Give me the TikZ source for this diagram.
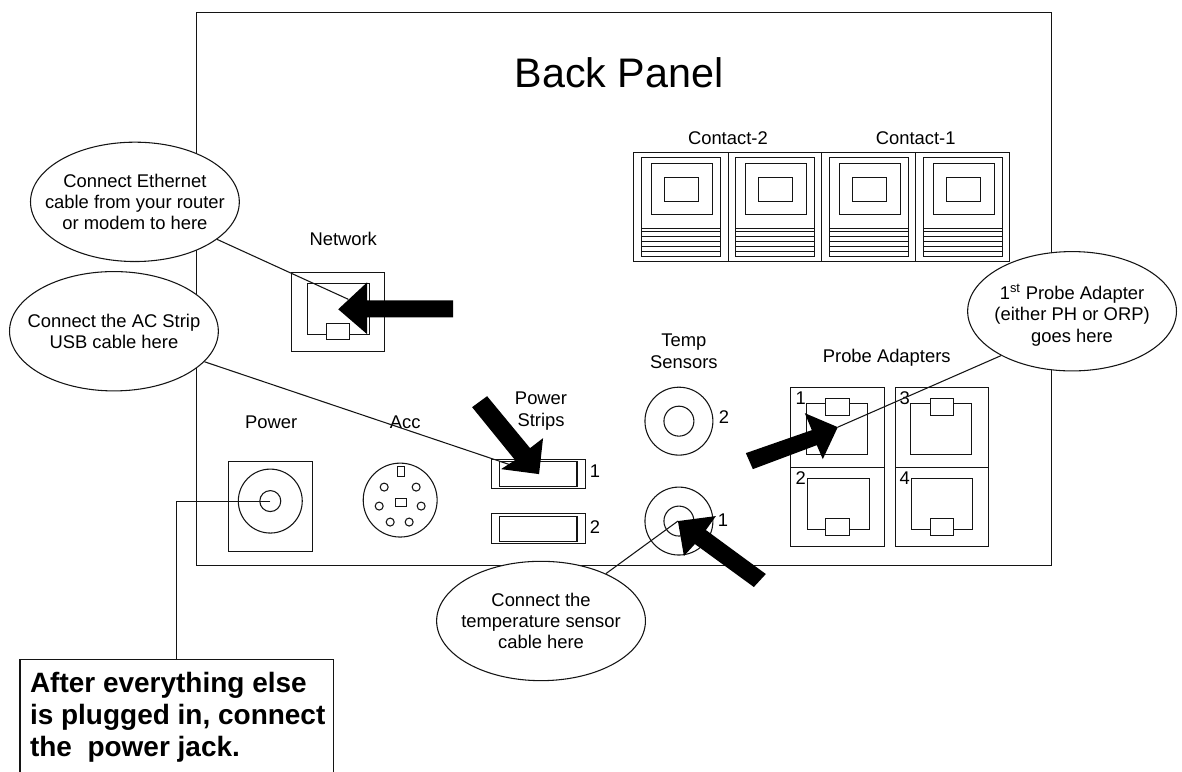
\documentclass[tikz,border=0pt]{standalone}
\usepackage{fontspec}
\setmainfont{Liberation Sans}
\usetikzlibrary{shapes.geometric}
\definecolor{ink}{gray}{0.08}
\tikzset{
  x=0.75pt,y=-0.75pt,
  every path/.style={line width=0.8pt,draw=ink},
  lbl/.style={draw=none,inner sep=0pt,align=center,text=black,font=\fontsize{13.8}{16}\selectfont},
  note/.style={shape=ellipse,draw=ink,fill=white,line width=0.8pt,inner sep=0pt,minimum width=156.75pt,minimum height=89.6pt},
  blockarrow/.style={fill=black,draw=none},
  modulepic/.pic={
    \draw (8,5) rectangle (87,104);
    \draw (18,11) rectangle (79,62);
    \draw (31,25) rectangle (65,49);
    \foreach \yy in {76,79,84,89,94,99}{\draw (8,\yy) -- (87,\yy);}
  },
}
\begin{document}
\begin{tikzpicture}
\useasboundingbox (0,0) rectangle (1182,771);
\fill[white] (0,0) rectangle (1182,771);
% panel
\draw (196,12) rectangle (1052,565.5);
\node[lbl,font=\fontsize{31}{36}\selectfont] (title) at (619,72) {Back Panel};
% contact blocks
\draw (634,152) rectangle (1010,261);
\draw (729,152) -- (729,261);
\draw (822,152) -- (822,261);
\draw (916,152) -- (916,261);
\pic at (634,152) {modulepic};
\pic at (728,152) {modulepic};
\pic at (821.7,152) {modulepic};
\pic at (915.7,152) {modulepic};
\node[lbl] (contactB) at (728,138) {Contact-2};
\node[lbl] (contactA) at (916,138) {Contact-1};
% network jack
\node[lbl] (netlabel) at (343,239) {Network};
\draw (291,272) rectangle (384,351);
\draw (307,283) rectangle (369,334);
\draw[fill=white] (326,323) rectangle (349,339);
\coordinate (netjack) at (348,299);
% power jack
\node[lbl] (powerlabel) at (271,422) {Power};
\draw (228,461) rectangle (312,551);
\draw (270,501) circle[radius=32];
\draw (270,501) circle[radius=10.5];
\coordinate (powerjack) at (270,501);
% acc
\node[lbl] (acclabel) at (405,422) {Acc};
\draw (400,500) circle[radius=37];
\draw (397,466) rectangle (404,476);
\draw (395,498) rectangle (406,506);
\foreach \px/\py in {384/487,416/487,379/506,421/506,390/522,409/522}{\draw (\px,\py) circle[radius=4];}
% power strips
\node[lbl] (striplabel) at (541,411) {Power\\Strips};
\draw (491,459) rectangle (585.5,488);
\draw (499,461) rectangle (577,486);
\draw (491,513) rectangle (585.5,543);
\draw (499,516) rectangle (577,541);
\node[lbl] (stripone) at (595,471) {1};
\node[lbl] (striptwo) at (595,527) {2};
\coordinate (stripjack) at (520,468);
% temp sensors
\node[lbl] (templabel) at (684,351) {Temp\\Sensors};
\draw (679,421) circle[radius=34];
\draw (679,421) circle[radius=15];
\draw (679,521) circle[radius=34];
\draw (679,521) circle[radius=15];
\node[lbl] (temptwo) at (724,417) {2};
\node[lbl] (tempone) at (723,520) {1};
\coordinate (tempjack) at (678,521);
% probe adapters
\node[lbl] (probelabel) at (887,358) {Probe Adapters};
\draw (791,387) rectangle (885,467);
\draw (791,467) rectangle (885,546);
\draw (896,387) rectangle (989,467);
\draw (896,467) rectangle (989,546);
\draw (807,403) rectangle (868,454);
\draw[fill=white] (826,398) rectangle (850,415);
\draw (911,403) rectangle (972,454);
\draw[fill=white] (931,398) rectangle (954,415);
\draw (808,478) rectangle (870,529);
\draw[fill=white] (826,518) rectangle (850,535);
\draw (912,478) rectangle (973,529);
\draw[fill=white] (931,518) rectangle (954,535);
\node[lbl] (probeone) at (801,398) {1};
\node[lbl] (probethree) at (905,398) {3};
\node[lbl] (probetwo) at (801,478) {2};
\node[lbl] (probefour) at (905,478) {4};
\coordinate (probejack) at (838,427);
% callouts
\node[note,label={[lbl]center:{Connect Ethernet\\cable from your router\\or modem to here}}] (ethnote) at (134.5,201.5) {};
\node[note,label={[lbl]center:{Connect the AC Strip\\USB cable here}}] (acnote) at (113.5,331) {};
\node[note,label={[lbl,yshift=-3pt]center:{1\textsuperscript{st} Probe Adapter\\(either PH or ORP)\\goes here}}] (probenote) at (1072.5,311) {};
\node[note,label={[lbl]center:{Connect the\\temperature sensor\\cable here}}] (tempnote) at (541,621) {};
% bottom box
\node[draw=none,fill=white,anchor=north west,inner sep=0pt,minimum height=83.25pt,minimum width=234.4pt] (jackbox) at (19.5,660) {};
\node[draw=none,inner sep=0pt,anchor=west,align=left,text=black,font=\fontsize{21}{24}\bfseries\selectfont] (jacktext) at (29,717) {After everything else\\is plugged in, connect\\the\ \ power jack.};
\draw (jackbox.south west) -- (jackbox.north west) -- (jackbox.north east) -- (jackbox.south east);
% connectors
\coordinate (jackdrop) at (176,660);
\draw (ethnote) -- (netjack);
\draw (acnote) -- (stripjack);
\draw (probenote.212) -- (probejack);
\draw (tempnote) -- (tempjack);
\draw (powerjack) -| (jackdrop);
% block arrows
\fill[blockarrow] (453,300) -- (367,300) -- (367,282) -- (338,309) -- (367,334) -- (367,317) -- (453,317) -- cycle;
\fill[blockarrow] (487,396) -- (530,448) -- (543,438) -- (539,474) -- (501,469) -- (515,460) -- (472,407) -- cycle;
\fill[blockarrow] (746,453) -- (812,430) -- (805,413) -- (838,427) -- (823,459) -- (817,445) -- (753,469) -- cycle;
\fill[blockarrow] (766,574) -- (706,530) -- (716,516) -- (678,521) -- (684,556) -- (695,544) -- (754,587) -- cycle;
\end{tikzpicture}
\end{document}
